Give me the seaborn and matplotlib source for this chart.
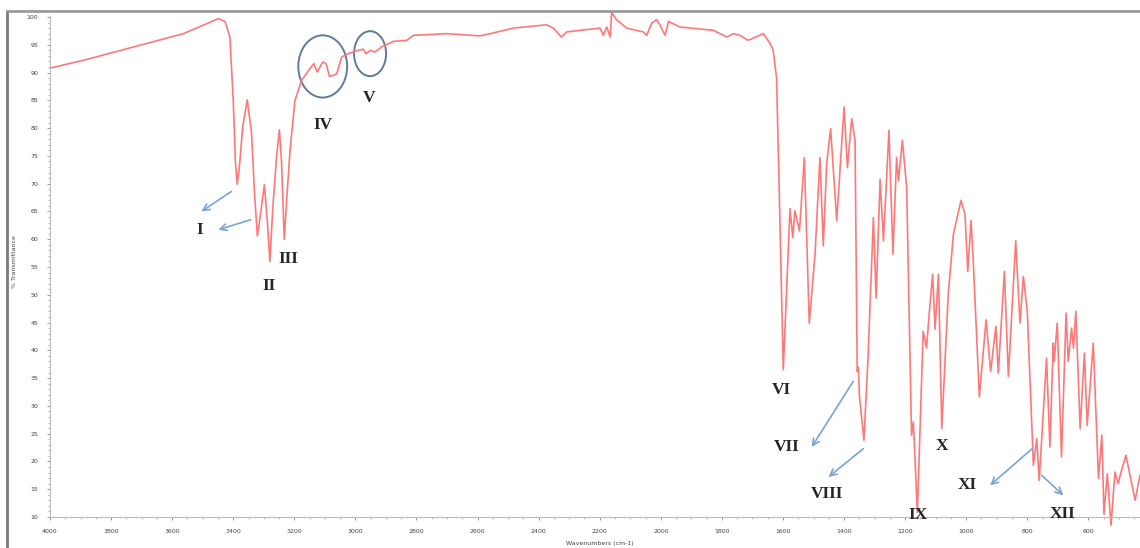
import matplotlib
matplotlib.use("Agg")
import matplotlib.pyplot as plt
import seaborn as sns
import pandas as pd
from matplotlib.patches import Ellipse
from matplotlib.lines import Line2D

# ---------------- data ----------------
wavenumber = [4000, 3891, 3727, 3563, 3449, 3427, 3411, 3400, 3393, 3387, 3380, 3369, 3354, 3340,
              3330, 3321, 3312, 3298, 3288, 3280, 3270, 3258, 3249, 3242, 3233, 3224, 3214, 3198,
              3176, 3149, 3136, 3125, 3107, 3096, 3085, 3072, 3061, 3045, 3023, 2990, 2974, 2965,
              2952, 2936, 2914, 2876, 2832, 2810, 2701, 2592, 2559, 2483, 2374, 2352, 2325, 2308,
              2265, 2199, 2188, 2177, 2166, 2161, 2145, 2112, 2057, 2046, 2030, 2014, 2003, 1986,
              1975, 1937, 1828, 1784, 1763, 1741, 1714, 1664, 1642, 1632, 1621, 1610, 1599, 1588,
              1577, 1568, 1561, 1546, 1530, 1514, 1495, 1479, 1468, 1457, 1444, 1424, 1400, 1389,
              1375, 1364, 1357, 1353, 1350, 1335, 1321, 1304, 1295, 1282, 1271, 1253, 1240, 1228,
              1222, 1209, 1195, 1179, 1173, 1160, 1141, 1130, 1121, 1110, 1102, 1091, 1080, 1059,
              1042, 1017, 1004, 995, 984, 977, 957, 935, 920, 903, 895, 875, 862, 838, 824, 813,
              800, 780, 769, 761, 737, 726, 715, 712, 702, 688, 673, 666, 655, 649, 641, 627, 613,
              604, 584, 567, 556, 549, 538, 526, 513, 502, 496, 477, 447, 431]
transmittance = [90.8, 92.2, 94.6, 97.0, 99.7, 99.2, 96.4, 85.0, 74.0, 69.9, 73.0, 80.2, 85.1, 79.0,
                 68.0, 60.6, 64.0, 69.8, 63.0, 56.0, 66.0, 75.0, 79.7, 74.0, 60.0, 68.0, 76.0, 85.0,
                 88.6, 90.7, 91.6, 90.1, 91.9, 91.6, 89.3, 89.5, 89.8, 92.8, 93.4, 94.0, 94.2, 93.4,
                 94.0, 93.7, 94.6, 95.6, 95.8, 96.7, 97.0, 96.6, 97.0, 98.0, 98.6, 98.0, 96.4, 97.3,
                 97.6, 98.0, 96.7, 98.2, 96.4, 100.8, 99.5, 98.0, 97.3, 96.7, 98.9, 99.5, 98.6, 96.7,
                 99.2, 98.2, 97.6, 96.4, 97.0, 96.7, 95.8, 97.0, 95.2, 94.0, 89.0, 63.3, 36.5, 51.2,
                 65.5, 60.3, 65.1, 61.5, 74.7, 44.9, 57.3, 74.7, 58.8, 73.5, 79.9, 63.3, 83.8, 72.9,
                 81.7, 77.8, 36.2, 37.0, 32.0, 23.8, 39.2, 63.9, 49.4, 70.8, 59.7, 79.6, 57.3, 74.7,
                 70.5, 77.8, 69.3, 24.7, 27.1, 10.8, 43.4, 40.4, 46.7, 53.7, 43.8, 53.7, 25.9, 50.0,
                 60.9, 67.0, 64.5, 54.2, 63.4, 56.1, 31.6, 45.5, 36.2, 44.3, 35.9, 54.2, 35.3, 59.7,
                 44.9, 53.3, 47.0, 19.3, 24.1, 16.6, 38.6, 22.6, 41.3, 38.0, 44.9, 20.8, 46.7, 38.0,
                 44.0, 40.4, 47.0, 25.9, 39.5, 26.5, 41.3, 16.9, 24.7, 10.5, 17.8, 8.5, 18.1, 16.0,
                 17.5, 21.1, 13.0, 17.5]

band_labels = ["I", "II", "III", "IV", "V", "VI", "VII", "VIII", "IX", "X", "XI", "XII"]
label_wn = [3509, 3283, 3221, 3106, 2955, 1604, 1588, 1457, 1158, 1080, 996, 684]
label_t = [61.7, 51.6, 56.4, 80.5, 85.5, 32.9, 22.6, 14.2, 10.3, 22.8, 15.7, 10.5]

# arrows: (from_wn, from_t, to_wn, to_t)
arrow_from_wn = [3406, 3343, 1370, 1337, 782, 753]
arrow_from_t = [68.6, 63.5, 34.4, 22.3, 22.4, 17.5]
arrow_to_wn = [3504, 3449, 1506, 1451, 922, 682]
arrow_to_t = [65.0, 61.7, 22.6, 17.2, 15.7, 13.9]

# circled regions: centre wn, centre T, width (cm-1), height (%T)
circle_wn = [3107, 2952]
circle_t = [91.1, 93.4]
circle_w = [160, 105]
circle_h = [11.2, 8.1]

x_ticks = list(range(4000, 599, -200))
y_ticks = list(range(10, 101, 5))

# ---------------- plot ----------------
sns.set_theme(style="white")
plt.rcParams['font.family'] = ['DejaVu Sans']

W, H = 1140, 548
fig = plt.figure(figsize=(W / 100, H / 100), dpi=100)
ax = fig.add_axes([50 / W, 1 - 517 / H, 1 - 50 / W, (517 - 15) / H])

df = pd.DataFrame({"Wavenumber": wavenumber, "Transmittance": transmittance})
sns.lineplot(data=df, x="Wavenumber", y="Transmittance", ax=ax, color="#FF7878",
             linewidth=1.2, estimator=None, sort=True)
for ln in ax.get_lines():
    ln.set_clip_on(False)
    ln.set_solid_joinstyle("round")

ax.set_xlim(4000, 431)
ax.set_ylim(10, 100.36)
ax.set_xticks(x_ticks)
ax.set_xticklabels([str(t) for t in x_ticks])
ax.set_yticks(y_ticks)
ax.set_yticklabels([str(t) for t in y_ticks])
ax.set_xticks(list(range(4000, 431, -50)), minor=True)
ax.set_yticks(list(range(10, 101, 1)), minor=True)
ax.tick_params(axis="both", which="major", labelsize=4.5, labelcolor="#444444",
               length=2.5, width=0.6, color="#888888", pad=6, bottom=True, left=True)
ax.tick_params(axis="both", which="minor", length=1.2, width=0.5, color="#999999",
               bottom=True, left=True)
ax.set_xlabel("")
ax.set_ylabel("")
for s in ["top", "right"]:
    ax.spines[s].set_visible(False)
for s in ["left", "bottom"]:
    ax.spines[s].set_color("#BBBBBB")
    ax.spines[s].set_linewidth(0.8)
    ax.spines[s].set_linestyle((0, (1, 1)))

fig.text(600 / W, 1 - 543 / H, "Wavenumbers (cm-1)", fontsize=4.5, color="#444444",
         ha="center", va="center")
fig.text(15 / W, 1 - 262 / H, "% Transmittance", fontsize=4.5, color="#444444",
         ha="center", va="center", rotation=90)

# outer frame lines
fig.add_artist(Line2D([7 / W, 7 / W], [0, 1 - 11 / H], transform=fig.transFigure,
                      color="#7A7A7A", linewidth=2))
fig.add_artist(Line2D([7 / W, 1], [1 - 11 / H, 1 - 11 / H], transform=fig.transFigure,
                      color="#9A9A9A", linewidth=2))

# band labels
for lab, xw, yt in zip(band_labels, label_wn, label_t):
    ax.text(xw, yt, lab, fontsize=12.5, fontweight="bold",
            family=["Liberation Serif", "DejaVu Serif"],
            color="#262626", ha="center", va="center", clip_on=False)

# arrows
for fx, fy, tx, ty in zip(arrow_from_wn, arrow_from_t, arrow_to_wn, arrow_to_t):
    ax.annotate("", xy=(tx, ty), xytext=(fx, fy),
                arrowprops=dict(arrowstyle="->", color="#7AA3D6", lw=1.2,
                                mutation_scale=12, shrinkA=0, shrinkB=0))

# circles
for cx, cy, cw, ch in zip(circle_wn, circle_t, circle_w, circle_h):
    ax.add_patch(Ellipse((cx, cy), cw, ch, fill=False, edgecolor="#5F7C9C", linewidth=1.4))

fig.savefig("out.png", dpi=100)
